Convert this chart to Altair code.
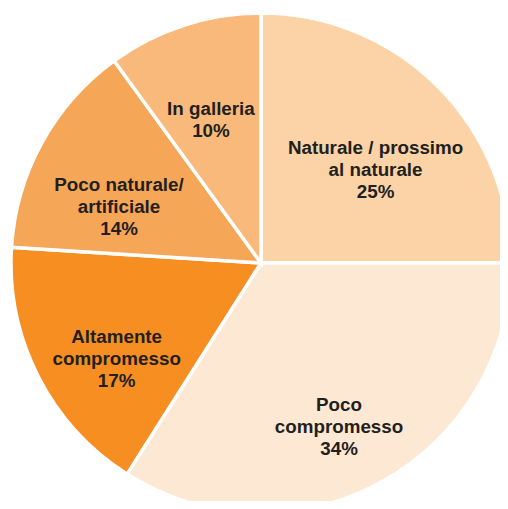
import altair as alt
import pandas as pd

categories = ["Naturale / prossimo\nal naturale", "Poco\ncompromesso", "Altamente\ncompromesso",
              "Poco naturale/\nartificiale", "In galleria"]
values = [25, 34, 17, 14, 10]
colors = ["#FBD3A6", "#FDE8D3", "#F68E22", "#F5A656", "#F8B97B"]

df = pd.DataFrame({
    "cat": categories,
    "value": values,
    "idx": list(range(len(categories))),
})
df["label"] = df["cat"] + "\n" + df["value"].astype(str) + "%"

cx, cy, R = 253, 255, 250

base = alt.Chart(df).encode(
    theta=alt.Theta("value:Q", stack=True),
    order=alt.Order("idx:Q", sort="ascending"),
    x=alt.value(cx),
    y=alt.value(cy),
)

arcs = base.mark_arc(stroke="white", strokeWidth=3.5).encode(
    color=alt.Color("cat:N", scale=alt.Scale(domain=categories, range=colors), legend=None),
    radius=alt.value(R),
)

labels = base.mark_text(
    radius=162, lineBreak="\n", font="Liberation Sans", fontWeight="bold",
    fontSize=18.8, color="#231F20", align="center", baseline="middle", lineHeight=22,
).encode(text="label:N")

chart = alt.layer(arcs, labels).properties(
    width=492, height=493, padding=0,
    autosize=alt.AutoSizeParams(type="none"),
).configure_view(stroke=None)

chart.save("out.html", embed_options={"renderer": "svg", "actions": False})
